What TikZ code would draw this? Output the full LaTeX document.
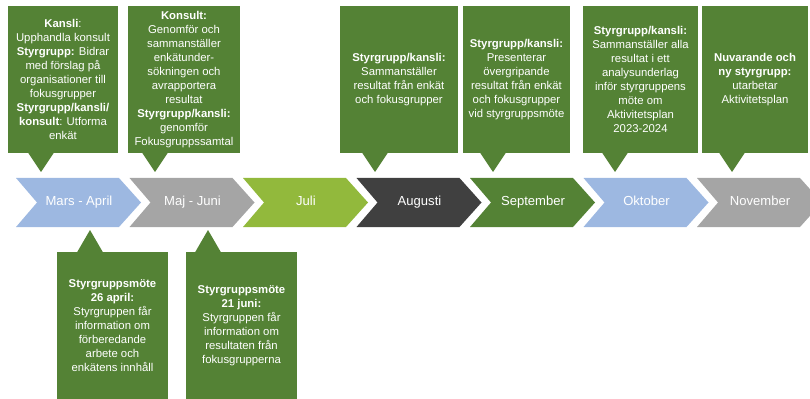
\documentclass[tikz,border=0pt]{standalone}
\usepackage{fontspec}
\setmainfont{Liberation Sans}
\usepackage{xcolor}
\usetikzlibrary{positioning, calc}

\definecolor{boxgreen}{HTML}{548235}
\definecolor{chevblue}{HTML}{9DB8E1}
\definecolor{chevgray}{HTML}{A5A5A5}
\definecolor{chevlime}{HTML}{92B93C}
\definecolor{chevdark}{HTML}{404040}

\tikzset{
    infobox/.style={rectangle, fill=boxgreen, text=white, align=center,
                    inner sep=0pt, minimum height=110.25pt,
                    font=\fontsize{8.5}{10.5}\selectfont},
    monthtext/.style={text=white, text height=7pt, text depth=2pt,
                      font=\fontsize{9.8}{12}\selectfont},
}

\begin{document}
\begin{tikzpicture}[x=0.75pt, y=-0.75pt]
    \useasboundingbox (0,0) rectangle (810,399);

    % timeline chevrons
    \foreach \x/\col/\name/\txt in {16/chevblue/mars/Mars - April,129.5/chevgray/maj/Maj - Juni,243/chevlime/juli/Juli,356.5/chevdark/augusti/Augusti,470/boxgreen/september/September,583.5/chevblue/oktober/Oktober,697/chevgray/november/November}{
        \fill[\col] (\x,178) -- ++(103,0) -- ++(22,24.5) -- ++(-22,24.5)
            -- ++(-103,0) -- ++(21,-24.5) -- cycle;
        \node[monthtext] (\name) at (\x+63,202.5) {\txt};
    }

    % boxes above
    \node[infobox, minimum width=82.5pt] (boxmars) at (63,79.5)
        {\textbf{Kansli}:\\Upphandla konsult\\\textbf{Styrgrupp:} Bidrar\\med förslag på\\organisationer till\\fokusgrupper\\\textbf{Styrgrupp/kansli/}\\\textbf{konsult}: Utforma\\enkät};
    \node[infobox, minimum width=84pt] (boxmaj) at (184,79.5)
        {\textbf{Konsult:}\\Genomför och\\sammanställer\\enkätunder-\\sökningen och\\avrapportera\\resultat\\\textbf{Styrgrupp/kansli:}\\genomför\\Fokusgruppssamtal};
    \node[infobox, minimum width=88.5pt] (boxaug) at (399,79.5)
        {\textbf{Styrgrupp/kansli:}\\Sammanställer\\resultat från enkät\\och fokusgrupper};
    \node[infobox, minimum width=80.25pt] (boxsep) at (516.5,79.5)
        {\textbf{Styrgrupp/kansli:}\\Presenterar\\övergripande\\resultat från enkät\\och fokusgrupper\\vid styrgruppsmöte};
    \node[infobox, minimum width=86.25pt] (boxokt) at (640.5,79.5)
        {\textbf{Styrgrupp/kansli:}\\Sammanställer alla\\resultat i ett\\analysunderlag\\inför styrgruppens\\möte om\\Aktivitetsplan\\2023-2024};
    \node[infobox, minimum width=79.5pt] (boxnov) at (755,79.5)
        {\textbf{Nuvarande och}\\\textbf{ny styrgrupp:}\\utarbetar\\Aktivitetsplan};

    % boxes below
    \node[infobox, minimum width=83.25pt] (boxapril) at (112.5,325.5)
        {\textbf{Styrgruppsmöte}\\\textbf{26 april:}\\Styrgruppen får\\information om\\förberedande\\arbete och\\enkätens innhåll};
    \node[infobox, minimum width=83.25pt] (boxjuni) at (241.5,325.5)
        {\textbf{Styrgruppsmöte}\\\textbf{21 juni:}\\Styrgruppen får\\information om\\resultaten från\\fokusgrupperna};

    % pointer tips
    \coordinate (tmars) at (41,172);
    \coordinate (tmaj) at (155,172);
    \coordinate (taug) at (375,172);
    \coordinate (tsep) at (493,172);
    \coordinate (tokt) at (615,172);
    \coordinate (tnov) at (732,172);
    \coordinate (tapril) at (90,230);
    \coordinate (tjuni) at (208,230);

    \fill[boxgreen] (tmars) -- ([xshift=-9.75pt,yshift=0.5pt]tmars |- boxmars.south) -- ([xshift=9.75pt,yshift=0.5pt]tmars |- boxmars.south) -- cycle;
    \fill[boxgreen] (tmaj) -- ([xshift=-9.75pt,yshift=0.5pt]tmaj |- boxmaj.south) -- ([xshift=9.75pt,yshift=0.5pt]tmaj |- boxmaj.south) -- cycle;
    \fill[boxgreen] (taug) -- ([xshift=-9.75pt,yshift=0.5pt]taug |- boxaug.south) -- ([xshift=9.75pt,yshift=0.5pt]taug |- boxaug.south) -- cycle;
    \fill[boxgreen] (tsep) -- ([xshift=-9.75pt,yshift=0.5pt]tsep |- boxsep.south) -- ([xshift=9.75pt,yshift=0.5pt]tsep |- boxsep.south) -- cycle;
    \fill[boxgreen] (tokt) -- ([xshift=-9.75pt,yshift=0.5pt]tokt |- boxokt.south) -- ([xshift=9.75pt,yshift=0.5pt]tokt |- boxokt.south) -- cycle;
    \fill[boxgreen] (tnov) -- ([xshift=-9.75pt,yshift=0.5pt]tnov |- boxnov.south) -- ([xshift=9.75pt,yshift=0.5pt]tnov |- boxnov.south) -- cycle;
    \fill[boxgreen] (tapril) -- ([xshift=-9.75pt,yshift=-0.5pt]tapril |- boxapril.north) -- ([xshift=9.75pt,yshift=-0.5pt]tapril |- boxapril.north) -- cycle;
    \fill[boxgreen] (tjuni) -- ([xshift=-9.75pt,yshift=-0.5pt]tjuni |- boxjuni.north) -- ([xshift=9.75pt,yshift=-0.5pt]tjuni |- boxjuni.north) -- cycle;
\end{tikzpicture}
\end{document}
